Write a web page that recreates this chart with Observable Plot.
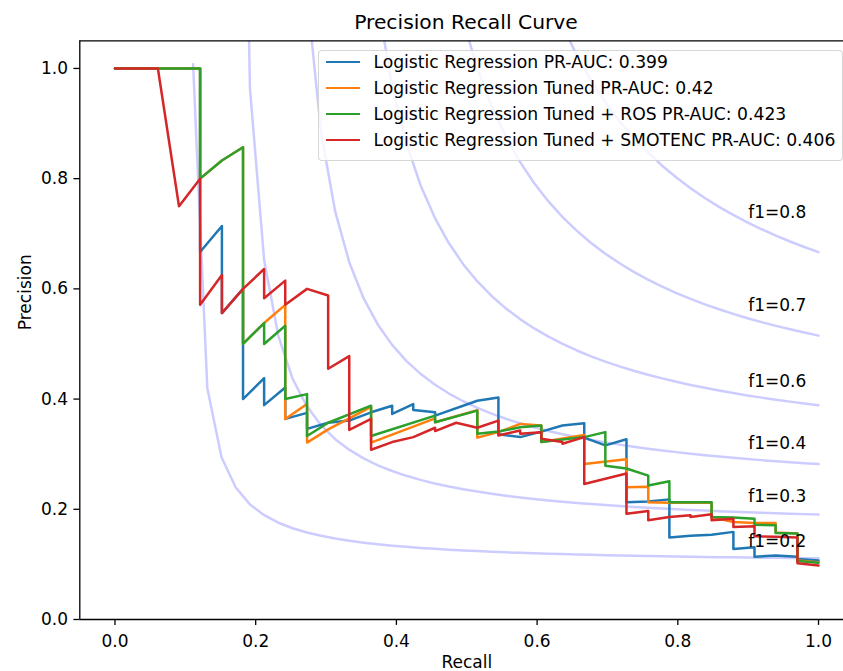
<!DOCTYPE html>
<html>
<head>
<meta charset="utf-8">
<script src="https://cdn.jsdelivr.net/npm/d3@7"></script>
<script src="https://cdn.jsdelivr.net/npm/@observablehq/plot@0.6"></script>
<style>
  html, body { margin: 0; padding: 0; background: #fff; }
  body { font-family: "DejaVu Sans", sans-serif; color: #000; overflow: hidden; }
  #wrap { position: relative; width: 843px; height: 671px; }
  #chart svg { display: block; }
  #title { position: absolute; left: 79px; width: 774px; top: 10px; text-align: center; font-size: 20.3px; line-height: 24px; white-space: nowrap; }
  #legend { position: absolute; left: 318px; top: 50px; height: 111px; box-sizing: border-box; padding: 0 6.8px 0 6.8px; background: rgba(255,255,255,0.8); border: 1px solid rgba(204,204,204,0.8); border-radius: 4px; font-size: 17.2px; white-space: nowrap; }
  .row { display: flex; align-items: center; height: 26px; }
  .row:first-child { margin-top: -2px; }
  .sw { width: 34px; height: 2.5px; margin-right: 13.6px; flex: none; }
</style>
</head>
<body>
<div id="wrap">
  <div id="chart"></div>
  <div id="title"></div>
  <div id="legend"></div>
</div>
<script>
const chartTitle = "Precision Recall Curve";
const xLabel = "Recall";
const yLabel = "Precision";

const seriesNames = [
  "Logistic Regression PR-AUC: 0.399",
  "Logistic Regression Tuned PR-AUC: 0.42",
  "Logistic Regression Tuned + ROS PR-AUC: 0.423",
  "Logistic Regression Tuned + SMOTENC PR-AUC: 0.406"
];
const seriesColors = ["#1f77b4", "#ff7f0e", "#2ca02c", "#d62728"];

const lrRecall = [0, 0.121, 0.121, 0.152, 0.152, 0.182, 0.182, 0.212, 0.212, 0.242, 0.242, 0.273, 0.273, 0.303, 0.333, 0.364, 0.394, 0.394, 0.424, 0.424, 0.455, 0.455, 0.515, 0.545, 0.545, 0.576, 0.606, 0.636, 0.667, 0.667, 0.697, 0.727, 0.727, 0.758, 0.788, 0.788, 0.818, 0.848, 0.879, 0.879, 0.909, 0.909, 0.939, 0.970, 0.970, 1.0];
const lrPrecision = [1, 1, 0.667, 0.714, 0.556, 0.6, 0.4, 0.438, 0.389, 0.421, 0.364, 0.375, 0.346, 0.357, 0.361, 0.376, 0.388, 0.373, 0.391, 0.38, 0.376, 0.37, 0.397, 0.403, 0.336, 0.331, 0.341, 0.352, 0.356, 0.33, 0.316, 0.327, 0.213, 0.214, 0.218, 0.149, 0.152, 0.154, 0.159, 0.128, 0.131, 0.114, 0.116, 0.114, 0.11, 0.107];

const tunedRecall = [0, 0.121, 0.121, 0.152, 0.182, 0.182, 0.212, 0.242, 0.242, 0.273, 0.273, 0.303, 0.333, 0.364, 0.364, 0.455, 0.455, 0.515, 0.515, 0.545, 0.576, 0.606, 0.606, 0.667, 0.667, 0.727, 0.727, 0.758, 0.758, 0.788, 0.848, 0.848, 0.879, 0.909, 0.939, 0.939, 0.970, 0.970, 1.0];
const tunedPrecision = [1, 1, 0.8, 0.833, 0.857, 0.5, 0.538, 0.571, 0.364, 0.391, 0.321, 0.345, 0.365, 0.386, 0.321, 0.365, 0.358, 0.38, 0.33, 0.34, 0.355, 0.352, 0.322, 0.335, 0.282, 0.291, 0.24, 0.241, 0.213, 0.212, 0.212, 0.186, 0.177, 0.175, 0.175, 0.158, 0.156, 0.107, 0.104];

const rosRecall = [0, 0.121, 0.121, 0.152, 0.182, 0.182, 0.212, 0.212, 0.242, 0.242, 0.273, 0.273, 0.303, 0.364, 0.364, 0.455, 0.455, 0.515, 0.515, 0.545, 0.576, 0.606, 0.606, 0.667, 0.697, 0.697, 0.727, 0.758, 0.758, 0.788, 0.788, 0.848, 0.848, 0.879, 0.909, 0.909, 0.939, 0.939, 0.970, 0.970, 1.0];
const rosPrecision = [1, 1, 0.8, 0.833, 0.857, 0.5, 0.538, 0.5, 0.533, 0.4, 0.409, 0.333, 0.357, 0.388, 0.333, 0.37, 0.358, 0.379, 0.337, 0.341, 0.349, 0.352, 0.322, 0.331, 0.34, 0.279, 0.274, 0.261, 0.243, 0.251, 0.213, 0.213, 0.186, 0.185, 0.183, 0.172, 0.171, 0.157, 0.156, 0.106, 0.103];

const smoteRecall = [0, 0.061, 0.091, 0.121, 0.121, 0.152, 0.152, 0.182, 0.212, 0.212, 0.242, 0.242, 0.273, 0.303, 0.303, 0.333, 0.333, 0.364, 0.364, 0.394, 0.424, 0.455, 0.455, 0.485, 0.515, 0.545, 0.545, 0.576, 0.576, 0.606, 0.606, 0.636, 0.636, 0.667, 0.667, 0.727, 0.727, 0.758, 0.758, 0.788, 0.818, 0.818, 0.848, 0.848, 0.879, 0.879, 0.909, 0.909, 0.939, 0.970, 0.970, 1.0];
const smotePrecision = [1, 1, 0.75, 0.8, 0.571, 0.625, 0.556, 0.6, 0.636, 0.583, 0.615, 0.571, 0.6, 0.588, 0.455, 0.478, 0.344, 0.364, 0.308, 0.322, 0.331, 0.348, 0.342, 0.357, 0.348, 0.361, 0.334, 0.343, 0.337, 0.34, 0.328, 0.322, 0.319, 0.331, 0.246, 0.265, 0.192, 0.197, 0.18, 0.186, 0.189, 0.186, 0.191, 0.18, 0.183, 0.168, 0.169, 0.151, 0.15, 0.149, 0.102, 0.098];

const fScores = [0.2, 0.32, 0.44, 0.56, 0.68, 0.8];
const isoRecallStart = 0.01, isoRecallEnd = 1, isoSamples = 50, isoLabelIndex = 45, isoLabelRecall = 0.9, isoLabelLift = 0.02;

const xTicks = [0, 0.2, 0.4, 0.6, 0.8, 1.0];
const yTicks = [0, 0.2, 0.4, 0.6, 0.8, 1.0];
const xLim = [-0.05, 1.05];
const xView = [-0.05, 1.0355];
const yLim = [0, 1.05];

// table for the PR curves
const seriesRecall = [lrRecall, tunedRecall, rosRecall, smoteRecall];
const seriesPrecision = [lrPrecision, tunedPrecision, rosPrecision, smotePrecision];
const prRows = [];
seriesNames.forEach((name, s) => {
  seriesRecall[s].forEach((r, i) => prRows.push({series: name, recall: r, precision: seriesPrecision[s][i]}));
});

// iso-F1 reference curves
const isoStep = (isoRecallEnd - isoRecallStart) / (isoSamples - 1);
const isoRows = [];
for (const f of fScores) {
  for (let i = 0; i < isoSamples; i++) {
    const x = isoRecallStart + i * isoStep;
    const y = f * x / (2 * x - f);
    if (y >= 0) isoRows.push({f, x, y});
  }
}
const fmt1 = d3.format(".1f");
const isoLabels = fScores.map(f => {
  const x = isoRecallStart + isoLabelIndex * isoStep;
  return {label: "f1=" + fmt1(f), x: isoLabelRecall, y: f * x / (2 * x - f) + isoLabelLift};
});

const chart = Plot.plot({
  width: 843,
  height: 671,
  marginLeft: 79.3,
  marginRight: 0,
  marginTop: 40.4,
  marginBottom: 52,
  x: {domain: xView},
  y: {domain: yLim},
  color: {domain: seriesNames, range: seriesColors},
  style: {fontFamily: '"DejaVu Sans", sans-serif', fontSize: "17px", color: "#000", background: "#fff"},
  marks: [
    Plot.line(isoRows, {x: "x", y: "y", z: "f", stroke: "blue", strokeOpacity: 0.2, strokeWidth: 2.5, clip: true}),
    Plot.line(prRows, {x: "recall", y: "precision", z: "series", stroke: "series", strokeWidth: 2.5, strokeLinejoin: "round", clip: true}),
    Plot.text(isoLabels, {x: "x", y: "y", text: "label", textAnchor: "start", lineAnchor: "middle", dy: -5.4, fill: "#000"}),
    Plot.ruleX([xLim[0]], {stroke: "#000", strokeWidth: 1.3}),
    Plot.ruleY([yLim[0], yLim[1]], {stroke: "#000", strokeWidth: 1.3}),
    Plot.axisX({ticks: xTicks, tickFormat: fmt1, tickSize: 5.9, tickPadding: 9.5, label: null, strokeWidth: 1.3}),
    Plot.axisY({ticks: yTicks, tickFormat: fmt1, tickSize: 5.9, tickPadding: 5.9, label: null, strokeWidth: 1.3}),
    Plot.text([xLabel], {x: () => (xLim[0] + xLim[1]) / 2, frameAnchor: "bottom", dy: 43, lineAnchor: "middle", text: d => d, fill: "#000"}),
    Plot.text([yLabel], {y: () => (yLim[0] + yLim[1]) / 2, frameAnchor: "left", dx: -54.3, rotate: -90, lineAnchor: "middle", text: d => d, fill: "#000"})
  ]
});
document.getElementById("chart").append(chart);
document.getElementById("title").textContent = chartTitle;

const legend = document.getElementById("legend");
seriesNames.forEach((name, i) => {
  const row = document.createElement("div");
  row.className = "row";
  const sw = document.createElement("div");
  sw.className = "sw";
  sw.style.background = seriesColors[i];
  const label = document.createElement("span");
  label.textContent = name;
  row.append(sw, label);
  legend.append(row);
});
</script>
</body>
</html>
